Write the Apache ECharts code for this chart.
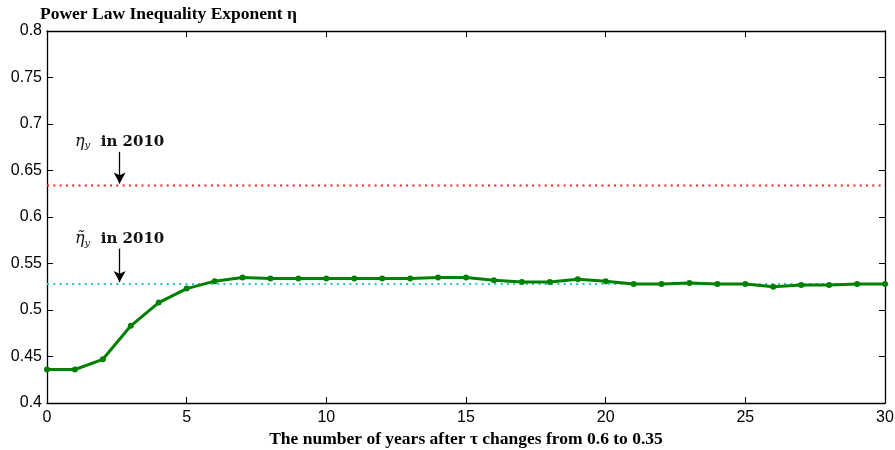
<!DOCTYPE html>
<html><head><meta charset="utf-8">
<script src="https://cdn.jsdelivr.net/npm/echarts@6/dist/echarts.min.js"></script>
<style>html,body{margin:0;padding:0;background:#fff}#c{width:895px;height:450px}</style>
</head><body><div id="c"></div>
<script>
const years = [0,1,2,3,4,5,6,7,8,9,10,11,12,13,14,15,16,17,18,19,20,21,22,23,24,25,26,27,28,29,30];
const eta = [0.436,0.436,0.447,0.483,0.508,0.523,0.531,0.535,0.534,0.534,0.534,0.534,0.534,0.534,0.535,0.535,0.532,0.530,0.530,0.533,0.531,0.528,0.528,0.529,0.528,0.528,0.525,0.527,0.527,0.528,0.528];
const etaY2010 = 0.634;
const etaTildeY2010 = 0.528;
const yTicks = {min:0.4, max:0.8, interval:0.05};
const xTicks = {min:0, max:30, interval:5};
const annX = 2.6;
const ann1 = {textY:0.681, from:0.670, to:0.636};
const ann2 = {textY:0.576, from:0.566, to:0.530};

const serif = '"Liberation Serif","Times New Roman",serif';
const sans = '"Liberation Sans",Arial,sans-serif';
const chart = echarts.init(document.getElementById('c'));
const rich = {
  i:{fontFamily:'"DejaVu Serif",serif', fontStyle:'italic', fontSize:16, color:'#111'},
  s:{fontFamily:'"DejaVu Serif",serif', fontStyle:'italic', fontSize:10, color:'#111', padding:[8,0,0,0]},
  b:{fontFamily:'"DejaVu Serif",serif', fontWeight:'bold', fontSize:15, color:'#111'}
};
function axisCommon(){ return {
  axisLine:{show:true, onZero:false, lineStyle:{color:'#000', width:1.3}},
  axisTick:{show:true, inside:true, length:6, lineStyle:{color:'#000', width:1}},
  splitLine:{show:false}
};}
chart.setOption({
  animation:false,
  title:{text:'Power Law Inequality Exponent η', left:35, top:0,
    textStyle:{fontFamily:serif, fontWeight:'bold', fontSize:17.5, color:'#000'}},
  grid:{left:47, right:10, top:31, bottom:47, containLabel:false, outerBoundsMode:'none'},
  xAxis:[
    Object.assign({type:'value', min:xTicks.min, max:xTicks.max, interval:xTicks.interval,
      name:'The number of years after τ changes from 0.6 to 0.35', nameLocation:'middle', nameGap:26,
      nameTextStyle:{fontFamily:serif, fontWeight:'bold', fontSize:17.5, color:'#000'},
      axisLabel:{fontFamily:sans, fontSize:16, color:'#000', margin:7}}, axisCommon()),
    Object.assign({type:'value', position:'top', min:xTicks.min, max:xTicks.max, interval:xTicks.interval,
      axisLabel:{show:false}}, axisCommon())
  ],
  yAxis:[
    Object.assign({type:'value', min:yTicks.min, max:yTicks.max, interval:yTicks.interval,
      axisLabel:{fontFamily:sans, fontSize:16, color:'#000', margin:5, formatter:v=>String(+v.toFixed(2))}}, axisCommon()),
    Object.assign({type:'value', position:'right', min:yTicks.min, max:yTicks.max, interval:yTicks.interval,
      axisLabel:{show:false}}, axisCommon())
  ],
  series:[
    {type:'line', data:[[xTicks.min,etaY2010],[xTicks.max,etaY2010]], symbol:'none',
      lineStyle:{color:'#ff2020', width:2, type:[2,4.3]}, silent:true,
      markPoint:{symbol:'circle', symbolSize:0, data:[{coord:[annX, ann1.textY],
        label:{show:true, position:'inside', formatter:'{i|η}{s|y}{b|  in 2010}', rich:rich}}]},
      markLine:{symbol:['none','arrow'], symbolSize:[9,11], silent:true, label:{show:false},
        lineStyle:{color:'#000', width:1.3, type:'solid'},
        data:[[{coord:[annX, ann1.from]},{coord:[annX, ann1.to]}]]}
    },
    {type:'line', data:[[xTicks.min,etaTildeY2010],[xTicks.max,etaTildeY2010]], symbol:'none',
      lineStyle:{color:'#22c8c8', width:2, type:[2,4.3]}, silent:true,
      markPoint:{symbol:'circle', symbolSize:0, data:[{coord:[annX, ann2.textY],
        label:{show:true, position:'inside', formatter:'{i|η̃}{s|y}{b|  in 2010}', rich:rich}}]},
      markLine:{symbol:['none','arrow'], symbolSize:[9,11], silent:true, label:{show:false},
        lineStyle:{color:'#000', width:1.3, type:'solid'},
        data:[[{coord:[annX, ann2.from]},{coord:[annX, ann2.to]}]]}
    },
    {type:'line', data:years.map((x,i)=>[x,eta[i]]), symbol:'circle', symbolSize:6,
      lineStyle:{color:'#008000', width:3}, itemStyle:{color:'#008000'}, z:5}
  ]
});
</script></body></html>
